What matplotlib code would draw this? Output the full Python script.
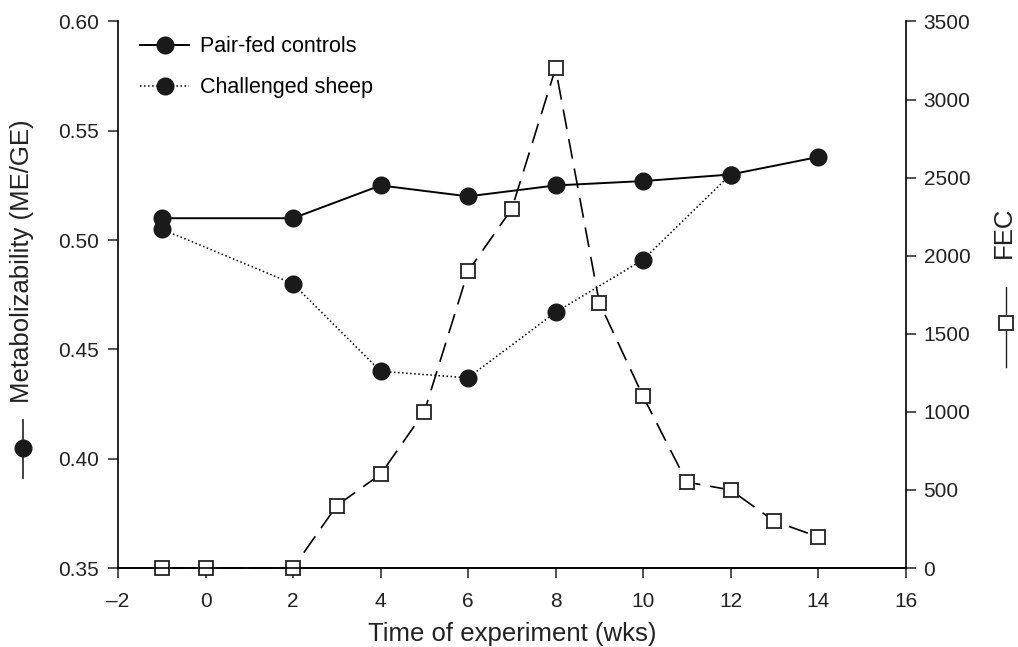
import numpy as np
import matplotlib
matplotlib.use("Agg")
import matplotlib.pyplot as plt
from matplotlib.lines import Line2D

plt.rcParams['font.family'] = ['Liberation Sans', 'DejaVu Sans']

# metabolizability (ME/GE)
weeks_me = [-1, 2, 4, 6, 8, 10, 12, 14]
pair_fed = [0.510, 0.510, 0.525, 0.520, 0.525, 0.527, 0.530, 0.538]
weeks_ch = [-1, 2, 4, 6, 8, 10, 12]
challenged = [0.505, 0.480, 0.440, 0.437, 0.467, 0.491, 0.530]

# faecal egg count
weeks_fec = [-1, 0, 2, 3, 4, 5, 6, 7, 8, 9, 10, 11, 12, 13, 14]
fec = [0, 0, 0, 400, 600, 1000, 1900, 2300, 3200, 1700, 1100, 550, 500, 300, 200]

xticks = list(range(-2, 17, 2))
left_ticks = [0.35, 0.40, 0.45, 0.50, 0.55, 0.60]
right_ticks = list(range(0, 3501, 500))

fig = plt.figure(figsize=(10.18, 6.47), dpi=100)
ax = fig.add_axes([0.116, 0.1221, 0.7735, 0.8447])
ax2 = ax.twinx()

ax.plot(weeks_me, pair_fed, '-', color='black', lw=1.4, marker='o',
        ms=12, mfc='#1a1a1a', mec='#1a1a1a', label='Pair-fed controls', zorder=3)
ax.plot(weeks_ch, challenged, ':', color='black', lw=1.1, marker='o',
        ms=12, mfc='#1a1a1a', mec='#1a1a1a', label='Challenged sheep', zorder=3)

ax2.plot(weeks_fec, fec, color='black', lw=1.2, linestyle=(0, (12, 6)),
         marker='s', ms=10, mfc='white', mec='#222222', mew=1.3, clip_on=False)

ax.set_xlim(-2, 16)
ax.set_ylim(0.35, 0.60)
ax2.set_ylim(0, 3500)
ax.set_xticks(xticks)
ax.set_xticklabels([str(t).replace('-', '\u2013') for t in xticks])
ax.set_yticks(left_ticks)
ax.set_yticklabels(['%.2f' % t for t in left_ticks])
ax2.set_yticks(right_ticks)

for a in (ax, ax2):
    a.spines['top'].set_visible(False)
    for s in a.spines.values():
        s.set_linewidth(1.2)
    a.tick_params(direction='out', length=7, width=1.1, labelsize=15, colors='#222222')
ax.spines['right'].set_visible(False)
ax2.spines['left'].set_visible(False)
ax.tick_params(axis='y', pad=7)
ax.tick_params(axis='x', pad=10)
ax2.tick_params(axis='y', pad=6)

ax.set_xlabel('Time of experiment (wks)', fontsize=18.5, color='#222222', labelpad=8)

ax.legend(loc='upper left', bbox_to_anchor=(0.003, 1.008), frameon=False,
          fontsize=15.5, handlelength=2.3, labelspacing=0.92, handletextpad=0.5)

# left axis title with symbol
fig.text(0.022, 0.377, 'Metabolizability (ME/GE)', rotation=90, ha='center',
         va='bottom', fontsize=18.5, color='#222222')
fig.add_artist(Line2D([0.0226, 0.0226], [0.261, 0.351], transform=fig.transFigure,
                      color='#222222', lw=1.2))
fig.add_artist(Line2D([0.0226], [0.3076], transform=fig.transFigure, marker='o',
                      ms=12, color='#1a1a1a'))

# right axis title with symbol
fig.text(0.986, 0.6414, 'FEC', rotation=90, ha='center', va='center',
         fontsize=18.5, color='#222222')
fig.add_artist(Line2D([0.9885, 0.9885], [0.4328, 0.5564], transform=fig.transFigure,
                      color='#222222', lw=1.0))
fig.add_artist(Line2D([0.9885], [0.5008], transform=fig.transFigure, marker='s',
                      ms=10, mfc='white', mec='#222222', mew=1.3))

fig.savefig('out.png', dpi=100)
